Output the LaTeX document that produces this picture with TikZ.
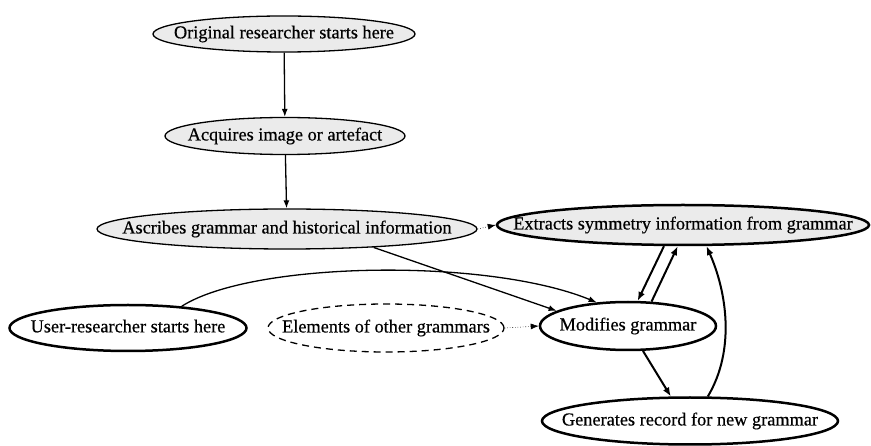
\documentclass[tikz,border=0pt]{standalone}
\usepackage{fontspec}
% labels use a slightly emboldened upright serif
\setmainfont{Liberation Serif}[BoldFont={Liberation Serif},BoldFeatures={FakeBold=0.5}]
\usetikzlibrary{shapes.geometric,arrows.meta}
% zero-width label so the ellipse size comes only from minimum width/height
\newcommand\lbl[1]{\makebox[0pt]{\vphantom{Ag}#1}}
\begin{document}
\begin{tikzpicture}[x=1pt,y=-1pt,
  every node/.style={font=\fontsize{18.3}{20}\selectfont\bfseries},
  stage/.style={ellipse,draw,inner sep=0pt,line width=1.3pt},
  shaded/.style={fill=black!8},
  heavy/.style={line width=2.5pt},
  open/.style={dash pattern=on 7pt off 5pt},
  flow/.style={-{Latex[length=8pt,width=6pt]},line width=1.3pt},
  strong/.style={-{Latex[length=9pt,width=7pt]},line width=2pt},
  faint/.style={-{Latex[length=8pt,width=6pt]},line width=0.6pt,dotted}]
\useasboundingbox (0,0) rectangle (871,446);

% stages
\node[stage,shaded,minimum width=262pt,minimum height=36pt] (orig) at (284,34) {\lbl{Original researcher starts here}};
\node[stage,shaded,minimum width=240pt,minimum height=37pt] (acq) at (285,136) {\lbl{Acquires image or artefact}};
\node[stage,shaded,minimum width=380pt,minimum height=40pt] (asc) at (287,229) {\lbl{Ascribes grammar and historical information}};
\node[stage,shaded,heavy,minimum width=372pt,minimum height=40pt] (ext) at (683,225) {\lbl{Extracts symmetry information from grammar}};
\node[stage,heavy,minimum width=237pt,minimum height=46pt] (user) at (128,328) {\lbl{User-researcher starts here}};
\node[stage,open,minimum width=236pt,minimum height=48pt] (elem) at (386,328) {\lbl{Elements of other grammars}};
\node[stage,heavy,minimum width=176pt,minimum height=48pt] (mod) at (628,326) {\lbl{Modifies grammar}};
\node[stage,heavy,minimum width=296pt,minimum height=47pt] (gen) at (690,421) {\lbl{Generates record for new grammar}};

% connectors
\draw[flow] (orig) -- (acq);
\draw[flow] (acq) -- (asc);
\draw[faint] (asc.east) -- (ext.west);
\draw[faint] (elem.east) -- (mod.west);
\draw[flow] (asc.-12) -- (mod.168);
\draw[flow] (user.22) .. controls +(70,-45) and +(-110,-45) .. (mod.143);
\draw[strong] (mod.46) -- (ext.-104);
\draw[strong] (ext.-132) -- (mod.69);
\draw[strong] (mod.-59) -- (gen.128);
\draw[strong] (gen.54) .. controls +(28,-47) and +(20,45) .. (ext.-42);
\end{tikzpicture}
\end{document}
